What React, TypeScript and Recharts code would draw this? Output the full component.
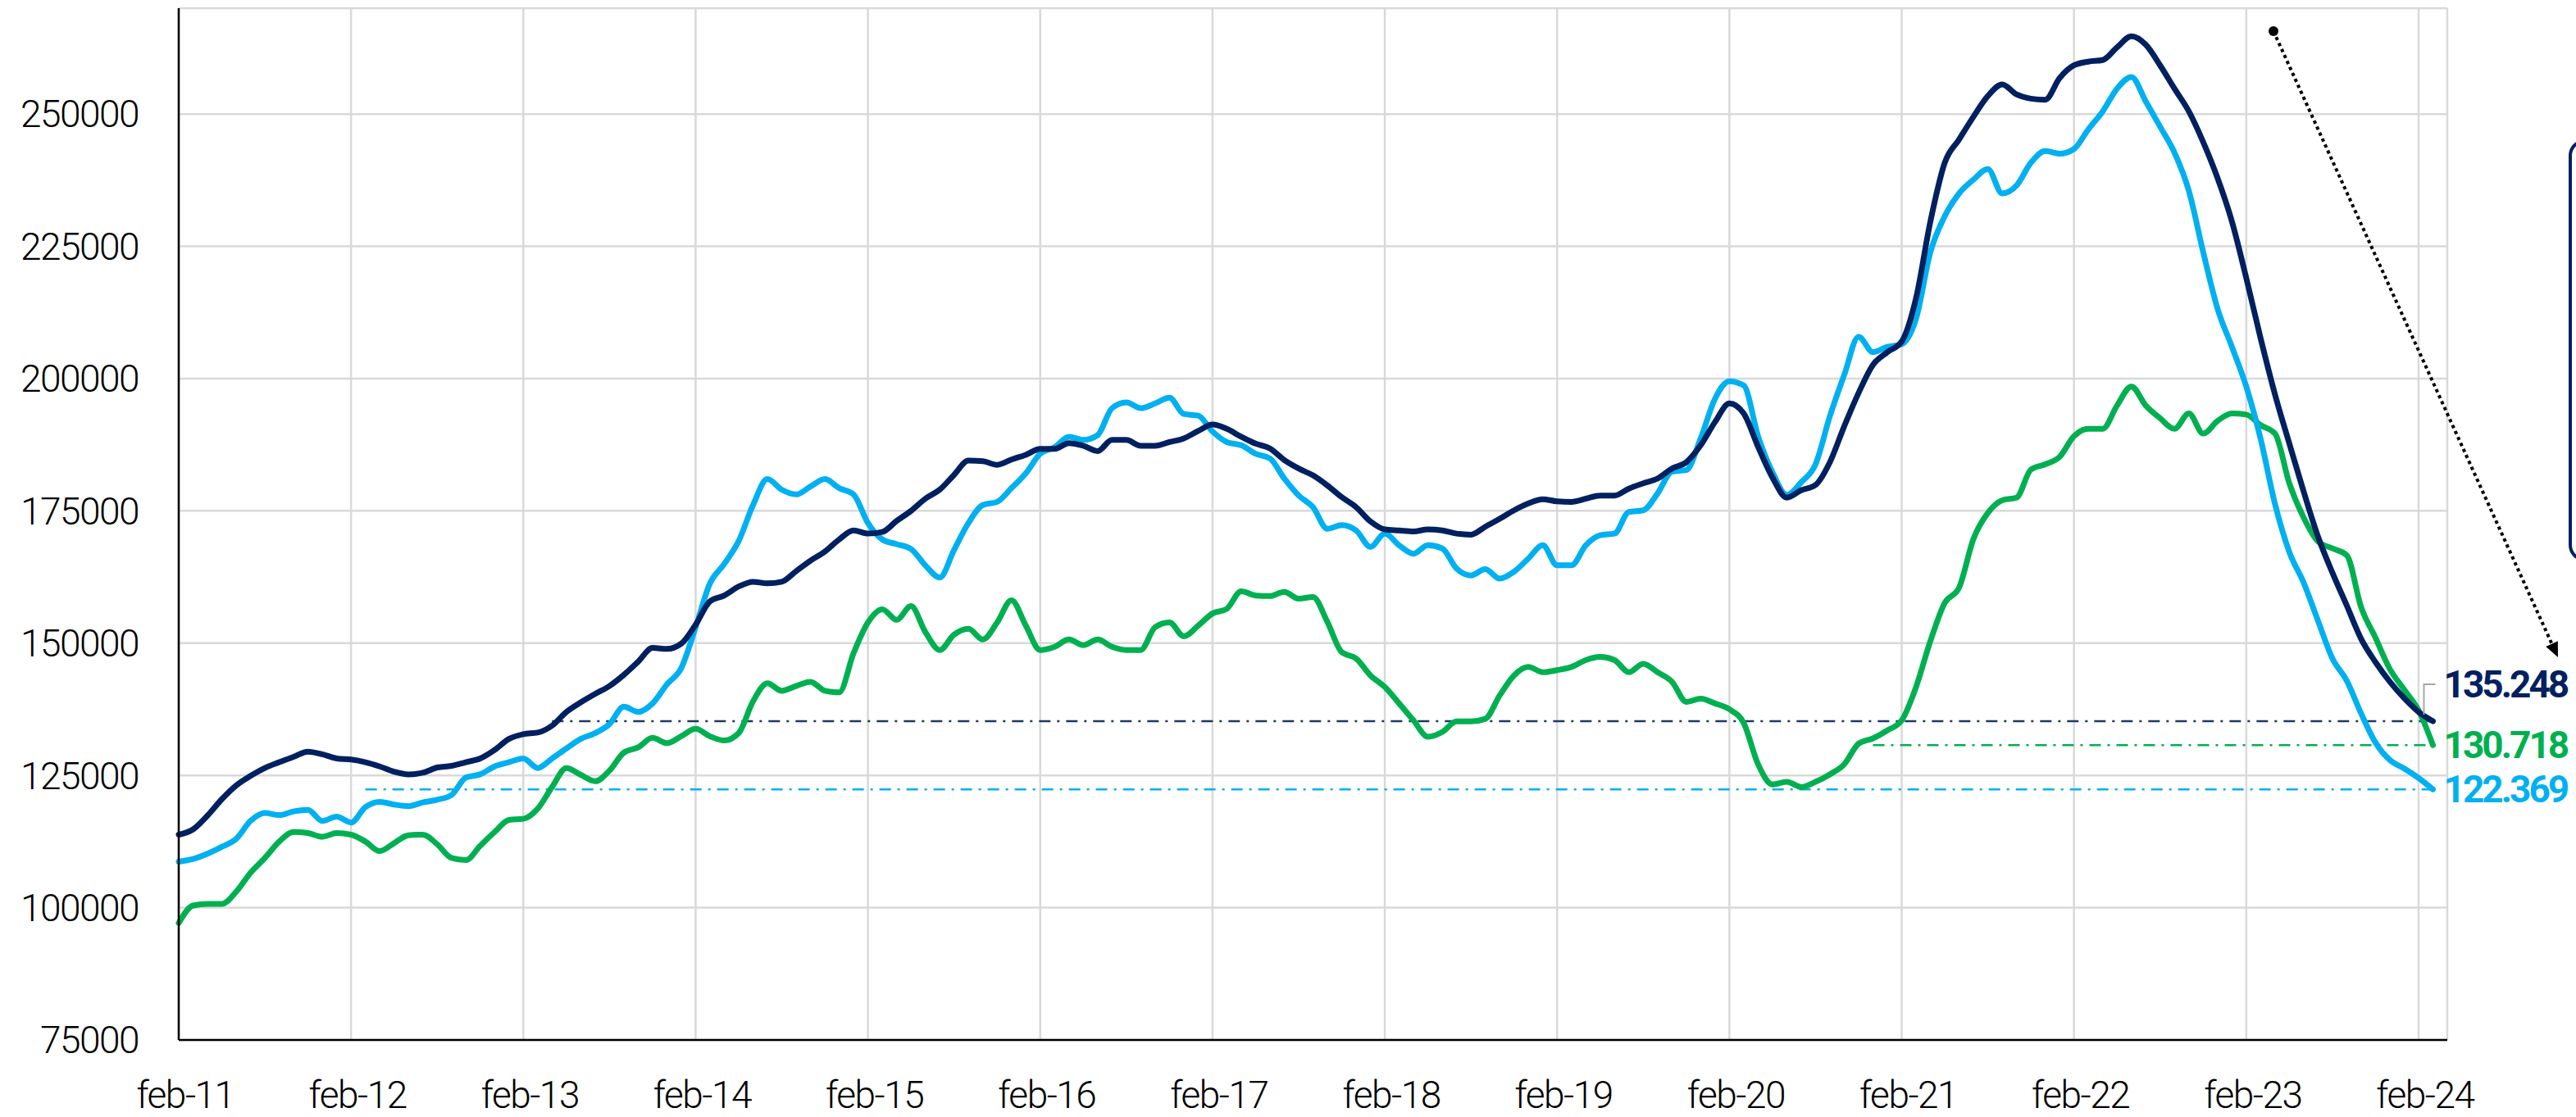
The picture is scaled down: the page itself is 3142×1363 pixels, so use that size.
import React from 'react';
import { LineChart, Line, XAxis, YAxis, CartesianGrid, ReferenceLine } from 'recharts';

// monthly series, Feb 2011 .. Mar 2024
const tickLabels = [
  'feb-11', 'feb-12', 'feb-13', 'feb-14', 'feb-15', 'feb-16', 'feb-17',
  'feb-18', 'feb-19', 'feb-20', 'feb-21', 'feb-22', 'feb-23', 'feb-24',
];
const yTicks = [75000, 100000, 125000, 150000, 175000, 200000, 225000, 250000];

const navy = [
  113800, 114800, 117400, 120500, 123100, 124900, 126400, 127500, 128500, 129500,
  129000, 128200, 128000, 127500, 126700, 125700, 125200, 125500, 126500, 126800,
  127500, 128200, 129800, 131900, 132800, 133100, 134400, 137000, 138800, 140400,
  141900, 144000, 146500, 149100, 148900, 149900, 153500, 157900, 159000, 160700,
  161600, 161300, 161600, 163600, 165600, 167300, 169600, 171300, 170700, 171000,
  173100, 175000, 177300, 179000, 181800, 184500, 184400, 183700, 184700, 185600,
  186700, 186700, 187800, 187300, 186300, 188400, 188400, 187300, 187300, 188000,
  188700, 190100, 191300, 190500, 189000, 187700, 186800, 184600, 183000, 181700,
  179800, 177600, 175700, 173000, 171500, 171300, 171100, 171500, 171300, 170700,
  170500, 172000, 173500, 175100, 176400, 177200, 176800, 176700, 177300, 177900,
  177900, 179200, 180200, 181100, 183000, 184200, 187400, 191800, 195300, 193400,
  187100, 181300, 177500, 178900, 179900, 184200, 191000, 197300, 202600, 205000,
  207000, 215200, 229700, 240800, 245200, 249500, 253400, 255600, 253700, 252900,
  252700, 256800, 259200, 259900, 260200, 262600, 264700, 263100, 259200, 254800,
  250500, 244700, 237900, 229700, 219000, 207600, 197000, 187700, 178600, 170100,
  163300, 157100, 150800, 146400, 142700, 139600, 137000, 135248,
];

const sky = [
  108700, 109200, 110200, 111500, 113000, 116400, 117900, 117500, 118200, 118500,
  116400, 117200, 116100, 119000, 120000, 119500, 119200, 119900, 120400, 121300,
  124600, 125200, 126700, 127500, 128200, 126400, 128200, 130100, 131900, 133000,
  134700, 138000, 137000, 138600, 142200, 145300, 153000, 161300, 165000, 169300,
  176100, 181000, 179000, 178100, 179600, 181000, 179300, 178100, 172700, 169600,
  168700, 167800, 164700, 162400, 167600, 172700, 176100, 176700, 179300, 182100,
  185800, 187000, 189000, 188400, 189300, 194400, 195500, 194400, 195300, 196400,
  193300, 193000, 190000, 188000, 187400, 185800, 184900, 181100, 177900, 175700,
  171600, 172300, 171300, 168200, 170700, 168500, 166900, 168500, 167900, 164100,
  162800, 164000, 162200, 163500, 166000, 168500, 164700, 164700, 168500, 170400,
  170700, 174800, 175100, 178300, 182400, 182700, 188700, 196200, 199500, 198700,
  189100, 182300, 178000, 180400, 183800, 192900, 200700, 207900, 205000, 206000,
  206500, 211300, 223900, 230700, 235000, 237600, 239600, 235000, 236500, 240800,
  243000, 242500, 243400, 247100, 250500, 254800, 257000, 252400, 247600, 242700,
  235500, 223900, 213200, 206000, 198500, 188600, 176300, 167200, 161400, 154200,
  147100, 142900, 136700, 131200, 127900, 126300, 124500, 122369,
];

const green = [
  97100, 100400, 100700, 100700, 103000, 106600, 109400, 112500, 114300, 114100,
  113400, 114100, 113800, 112500, 110700, 112200, 113700, 113800, 112000, 109400,
  109000, 111700, 114300, 116600, 116800, 118700, 122800, 126400, 125100, 123900,
  125900, 129300, 130300, 132100, 131100, 132400, 133800, 132400, 131600, 133000,
  139000, 142400, 141000, 141900, 142700, 141000, 140700, 148100, 153900, 156400,
  154400, 157000, 152100, 148700, 151600, 152700, 150700, 153900, 158100, 153300,
  148700, 149300, 150700, 149600, 150700, 149300, 148700, 148700, 153000, 153900,
  151300, 153300, 155600, 156500, 159800, 159000, 158900, 159700, 158400, 158700,
  154000, 148300, 147100, 143900, 141700, 138600, 135400, 132300, 133200, 135200,
  135200, 135700, 140100, 143900, 145500, 144500, 144900, 145500, 146800, 147400,
  146800, 144500, 146100, 144500, 142700, 138900, 139500, 138600, 137500, 134900,
  127100, 123300, 123800, 122800, 123800, 125200, 127100, 131000, 132000, 133500,
  135400, 141700, 150400, 157600, 160500, 169700, 174600, 177000, 177500, 182800,
  183800, 185200, 189100, 190500, 190500, 194900, 198500, 194900, 192500, 190500,
  193400, 189600, 192000, 193400, 193200, 191200, 189600, 180200, 173700, 169200,
  167900, 166600, 156800, 151000, 145100, 141200, 137300, 130718,
];

// month where each "back to this level" marker starts
const navyRefFrom = 26;
const skyRefFrom = 13;
const greenRefFrom = 118;

const last = navy.length - 1;
const rows = navy.map((v, i) => ({ m: i, navy: v, sky: sky[i], green: green[i] }));
const xTicks = tickLabels.map((_, i) => i * 12);

const COLORS = { navy: '#002060', navyRef: '#1f3864', sky: '#00b0f0', green: '#00b050' };
const FONT = 'Roboto, "DejaVu Sans", sans-serif';

const fmt = (v: number) => `${Math.floor(v / 1000)}.${String(v % 1000).padStart(3, '0')}`;

const endLabel = (color: string, lift: number) => (props: any) => {
  const { x, y, index, value } = props;
  if (index !== last) return <g />;
  const ty = y - lift;
  return (
    <g>
      {lift > 0 && (
        <path
          d={`M${x - 11},${y - 8} L${x - 11},${ty} L${x + 3},${ty}`}
          stroke="#a6a6a6"
          strokeWidth={2}
          fill="none"
        />
      )}
      <text
        x={x + 13}
        y={ty}
        dominantBaseline="central"
        fill={color}
        fontSize={46}
        fontWeight={700}
        fontFamily={FONT}
        letterSpacing={-3}
      >
        {fmt(value)}
      </text>
    </g>
  );
};

// dotted call-out arrow and the framed panel on the right edge
function Overlay() {
  const x1 = 2773, y1 = 38, x2 = 3120, y2 = 802;
  const len = Math.hypot(x2 - x1, y2 - y1);
  const ux = (x2 - x1) / len, uy = (y2 - y1) / len;
  const bx = x2 - ux * 18, by = y2 - uy * 18;
  const px = -uy * 8, py = ux * 8;
  return (
    <svg
      width={3142}
      height={1363}
      style={{ position: 'absolute', left: 0, top: 0, pointerEvents: 'none' }}
    >
      <circle cx={x1} cy={y1} r={6} fill="#000" />
      <line x1={x1} y1={y1} x2={bx} y2={by} stroke="#000" strokeWidth={4} strokeDasharray="4 4" />
      <polygon points={`${x2},${y2} ${bx + px},${by + py} ${bx - px},${by - py}`} fill="#000" />
      <rect x={3135} y={172} width={80} height={511} rx={18} fill="none" stroke={COLORS.navy} strokeWidth={4} />
    </svg>
  );
}

export default function App() {
  return (
    <div style={{ position: 'absolute', left: 0, top: 0, width: 3142, height: 1363, background: '#fff' }}>
      <LineChart width={3142} height={1363} data={rows} margin={{ top: 10, right: 157, left: 0, bottom: 0 }}>
        <CartesianGrid stroke="#d9d9d9" strokeWidth={2.5} />
        <XAxis
          dataKey="m"
          type="number"
          domain={[0, 158]}
          ticks={xTicks}
          interval={0}
          tickFormatter={(v: number) => tickLabels[Math.round(v / 12)]}
          height={94}
          tickLine={false}
          tickSize={0}
          tickMargin={50}
          axisLine={{ stroke: '#000', strokeWidth: 2.5 }}
          tick={{ fill: '#000', fontSize: 46, fontFamily: FONT, fontWeight: 300, letterSpacing: -1.5, dx: 8 }}
        />
        <YAxis
          type="number"
          domain={[75000, 270000]}
          ticks={yTicks}
          interval={0}
          width={218}
          tickLine={false}
          tickSize={0}
          tickMargin={49}
          axisLine={{ stroke: '#000', strokeWidth: 2.5 }}
          tick={{ fill: '#000', fontSize: 46, fontFamily: FONT, fontWeight: 300, letterSpacing: -1.5 }}
        />
        <ReferenceLine
          segment={[{ x: navyRefFrom, y: navy[last] }, { x: last, y: navy[last] }]}
          stroke={COLORS.navyRef}
          strokeWidth={2.5}
          strokeDasharray="14 8 3 8"
        />
        <ReferenceLine
          segment={[{ x: greenRefFrom, y: green[last] }, { x: last, y: green[last] }]}
          stroke={COLORS.green}
          strokeWidth={2.5}
          strokeDasharray="14 8 3 8"
        />
        <ReferenceLine
          segment={[{ x: skyRefFrom, y: sky[last] }, { x: last, y: sky[last] }]}
          stroke={COLORS.sky}
          strokeWidth={2.5}
          strokeDasharray="14 8 3 8"
        />
        <Line
          dataKey="green"
          type="monotone"
          stroke={COLORS.green}
          strokeWidth={7}
          strokeLinecap="round"
          strokeLinejoin="round"
          dot={false}
          activeDot={false}
          isAnimationActive={false}
          label={endLabel(COLORS.green, 0)}
        />
        <Line
          dataKey="sky"
          type="monotone"
          stroke={COLORS.sky}
          strokeWidth={7}
          strokeLinecap="round"
          strokeLinejoin="round"
          dot={false}
          activeDot={false}
          isAnimationActive={false}
          label={endLabel(COLORS.sky, 0)}
        />
        <Line
          dataKey="navy"
          type="monotone"
          stroke={COLORS.navy}
          strokeWidth={7}
          strokeLinecap="round"
          strokeLinejoin="round"
          dot={false}
          activeDot={false}
          isAnimationActive={false}
          label={endLabel(COLORS.navy, 45)}
        />
      </LineChart>
      <Overlay />
    </div>
  );
}
